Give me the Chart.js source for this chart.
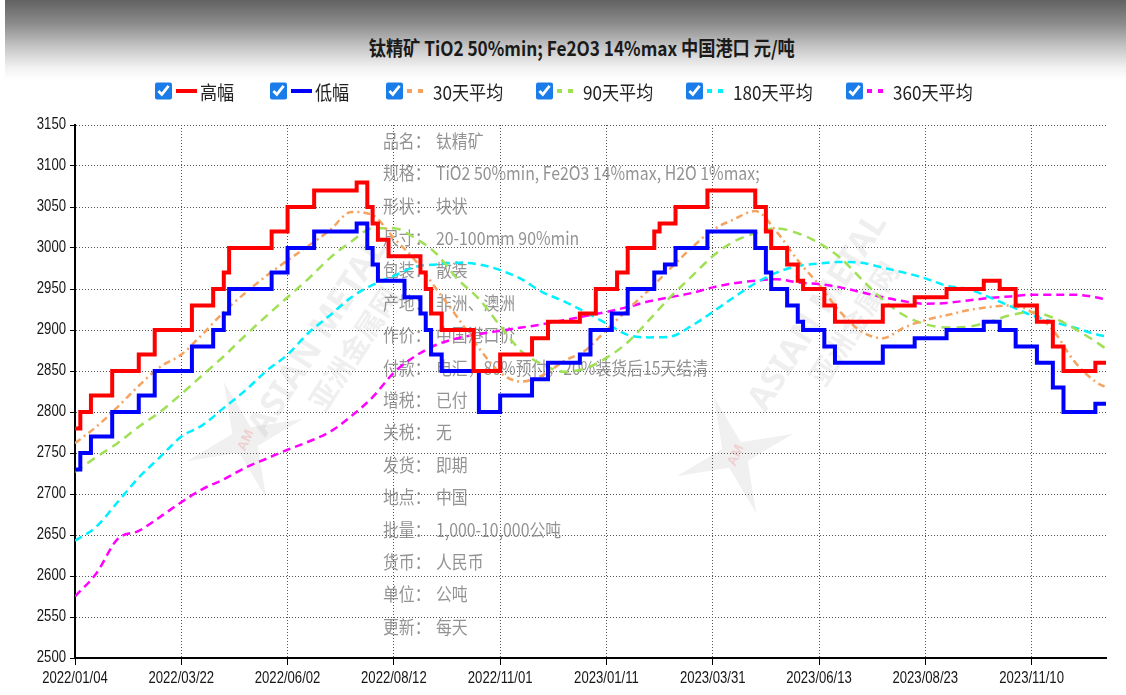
<!DOCTYPE html>
<html>
<head>
<meta charset="utf-8">
<script src="https://cdn.jsdelivr.net/npm/chart.js@4/dist/chart.umd.min.js"></script>
<style>
  body { margin: 0; width: 1126px; height: 695px; position: relative; overflow: hidden; background: #fff;
         font-family: "Noto Sans CJK SC", "Noto Sans", sans-serif; }
  #head { position: absolute; left: 5px; top: 0; width: 1121px; height: 80px;
          background: linear-gradient(#626262 0%, #8c8c8c 30%, #c8c8c8 60%, #f2f2f2 85%, #fff 100%); }
  #title { position: absolute; top: 33px; left: 0; width: 1154px; text-align: center; }
  #title span { display: inline-block; font-size: 20px; font-weight: bold; color: #1a1a1a; transform: scaleX(0.86); }
  #chart { position: absolute; left: 0; top: 0; }
  .item { position: absolute; top: 81px; height: 20px; display: flex; align-items: center; white-space: nowrap; }
  .item input { width: 17px; height: 20px; margin: 0 4px 0 0; accent-color: #1a7ce8; }
  .sw.solid { width: 21px; height: 4px; margin-right: 3px; }
  .sw.dash { width: 16px; height: 4px; margin-right: 10px; }
  .txt { font-size: 19px; color: #222; display: inline-block; transform: scaleX(0.9); transform-origin: left center; }
</style>
</head>
<body>
<div id="head"><div id="title"><span>钛精矿 TiO2 50%min; Fe2O3 14%max 中国港口 元/吨</span></div></div>
<canvas id="chart" width="1126" height="695"></canvas>
<div id="legend"></div>
<script>
// x axis: trading-day index, one tick label every 20 steps
const tickLabels = ['2022/01/04', '2022/03/22', '2022/06/02', '2022/08/12', '2022/11/01',
                    '2023/01/11', '2023/03/31', '2023/06/13', '2023/08/23', '2023/11/10'];

// 高幅 / 低幅 (one value per step)
const high = [
  2780, 2800, 2800, 2820, 2820, 2820, 2820, 2850, 2850, 2850,
  2850, 2850, 2870, 2870, 2870, 2900, 2900, 2900, 2900, 2900,
  2900, 2900, 2930, 2930, 2930, 2930, 2950, 2950, 2970, 3000,
  3000, 3000, 3000, 3000, 3000, 3000, 3000, 3020, 3020, 3020,
  3050, 3050, 3050, 3050, 3050, 3070, 3070, 3070, 3070, 3070,
  3070, 3070, 3070, 3080, 3080, 3050, 3030, 3010, 3010, 2990,
  2990, 2990, 2990, 2990, 2990, 2970, 2950, 2920, 2920, 2900,
  2900, 2900, 2900, 2900, 2900, 2850, 2850, 2850, 2850, 2850,
  2870, 2870, 2870, 2870, 2870, 2870, 2890, 2890, 2890, 2910,
  2910, 2910, 2910, 2910, 2910, 2920, 2920, 2920, 2950, 2950,
  2950, 2950, 2970, 2970, 3000, 3000, 3000, 3000, 3000, 3020,
  3030, 3030, 3030, 3050, 3050, 3050, 3050, 3050, 3050, 3070,
  3070, 3070, 3070, 3070, 3070, 3070, 3070, 3070, 3050, 3050,
  3020, 3000, 3000, 3000, 2980, 2980, 2960, 2950, 2950, 2950,
  2950, 2930, 2930, 2910, 2910, 2910, 2910, 2910, 2910, 2910,
  2910, 2910, 2930, 2930, 2930, 2930, 2930, 2930, 2940, 2940,
  2940, 2940, 2940, 2940, 2950, 2950, 2950, 2950, 2950, 2950,
  2950, 2960, 2960, 2960, 2950, 2950, 2950, 2930, 2930, 2930,
  2930, 2910, 2910, 2910, 2880, 2880, 2850, 2850, 2850, 2850,
  2850, 2850, 2860, 2860, 2860
];
const low = [
  2730, 2750, 2750, 2770, 2770, 2770, 2770, 2800, 2800, 2800,
  2800, 2800, 2820, 2820, 2820, 2850, 2850, 2850, 2850, 2850,
  2850, 2850, 2880, 2880, 2880, 2880, 2900, 2900, 2920, 2950,
  2950, 2950, 2950, 2950, 2950, 2950, 2950, 2970, 2970, 2970,
  3000, 3000, 3000, 3000, 3000, 3020, 3020, 3020, 3020, 3020,
  3020, 3020, 3020, 3030, 3030, 3000, 2980, 2960, 2960, 2960,
  2960, 2960, 2940, 2940, 2940, 2920, 2900, 2870, 2870, 2850,
  2850, 2850, 2850, 2850, 2850, 2850, 2800, 2800, 2800, 2800,
  2820, 2820, 2820, 2820, 2820, 2820, 2840, 2840, 2840, 2860,
  2860, 2860, 2860, 2860, 2860, 2870, 2870, 2900, 2900, 2900,
  2900, 2920, 2920, 2920, 2950, 2950, 2950, 2950, 2950, 2970,
  2970, 2980, 2980, 3000, 3000, 3000, 3000, 3000, 3000, 3020,
  3020, 3020, 3020, 3020, 3020, 3020, 3020, 3020, 3000, 3000,
  2970, 2950, 2950, 2950, 2930, 2930, 2910, 2900, 2900, 2900,
  2900, 2880, 2880, 2860, 2860, 2860, 2860, 2860, 2860, 2860,
  2860, 2860, 2880, 2880, 2880, 2880, 2880, 2880, 2890, 2890,
  2890, 2890, 2890, 2890, 2900, 2900, 2900, 2900, 2900, 2900,
  2900, 2910, 2910, 2910, 2900, 2900, 2900, 2880, 2880, 2880,
  2880, 2860, 2860, 2860, 2830, 2830, 2800, 2800, 2800, 2800,
  2800, 2800, 2810, 2810, 2810
];

// moving averages, read every 4 steps (last point at the final step)
const ma30 = [
  2762, 2782, 2806, 2832, 2855, 2870, 2895, 2922, 2945, 2966,
  2985, 3003, 3022, 3044, 3040, 3012, 2985, 2950, 2915, 2878,
  2848, 2837, 2845, 2862, 2875, 2900, 2925, 2949, 2975, 3000,
  3022, 3035, 3045, 3020, 2985, 2955, 2922, 2898, 2890, 2903,
  2912, 2918, 2924, 2928, 2930, 2922, 2900, 2862, 2837, 2830
];
const ma90 = [
  2727, 2745, 2762, 2782, 2800, 2822, 2845, 2868, 2893, 2917,
  2940, 2963, 2988, 3008, 3024, 3024, 3012, 2993, 2962, 2938,
  2905, 2874, 2858, 2849, 2853, 2866, 2885, 2912, 2940, 2965,
  2990, 3008, 3018, 3024, 3018, 3006, 2988, 2962, 2937, 2918,
  2907, 2903, 2904, 2910, 2918, 2922, 2915, 2902, 2886, 2877
];
const ma180 = [
  2643, 2660, 2690, 2720, 2745, 2770, 2784, 2805, 2826, 2850,
  2870, 2897, 2918, 2940, 2955, 2966, 2977, 2980, 2982, 2980,
  2973, 2962, 2946, 2935, 2922, 2908, 2894, 2891, 2892, 2905,
  2922, 2940, 2957, 2970, 2978, 2981, 2983, 2982, 2976, 2970,
  2963, 2954, 2950, 2940, 2929, 2918, 2910, 2903, 2895, 2892
];
const ma360 = [
  2575, 2603, 2645, 2655, 2672, 2690, 2706, 2718, 2732, 2743,
  2754, 2764, 2776, 2795, 2818, 2848, 2868, 2882, 2890, 2895,
  2899, 2903, 2907, 2912, 2917, 2922, 2928, 2935, 2940, 2945,
  2952, 2957, 2960, 2962, 2958, 2956, 2952, 2946, 2940, 2935,
  2932, 2933, 2936, 2939, 2941, 2943, 2943, 2943, 2940, 2937
];

const infoLines = [
  ['品名', '钛精矿'],
  ['规格', 'TiO2 50%min, Fe2O3 14%max, H2O 1%max;'],
  ['形状', '块状'],
  ['尺寸', '20-100mm 90%min'],
  ['包装', '散装'],
  ['产地', '非洲、澳洲'],
  ['作价', '中国港口价'],
  ['付款', '电汇，80%预付，20%装货后15天结清'],
  ['增税', '已付'],
  ['关税', '无'],
  ['发货', '即期'],
  ['地点', '中国'],
  ['批量', '1,000-10,000公吨'],
  ['货币', '人民币'],
  ['单位', '公吨'],
  ['更新', '每天']
];

const LAST = high.length - 1;
const TICK_EVERY = 20;
const MA_EVERY = 4;

function toPoints(values, every) {
  return values.map((v, i) => ({ x: Math.min(i * every, LAST), y: v }));
}

// product sheet text and faint watermarks behind the lines
const backdropPlugin = {
  id: 'backdrop',
  beforeDatasetsDraw(chart) {
    const ctx = chart.ctx;
    ctx.save();

    [[245, 440], [735, 455]].forEach(([cx, cy]) => {
      ctx.save();
      ctx.translate(cx, cy);
      ctx.rotate(-0.35);
      ctx.beginPath();
      const R = 62, r = 14;
      for (let k = 0; k < 8; k++) {
        const a = -Math.PI / 2 + k * Math.PI / 4;
        const rad = k % 2 === 0 ? R : r;
        ctx.lineTo(Math.cos(a) * rad, Math.sin(a) * rad);
      }
      ctx.closePath();
      ctx.fillStyle = 'rgba(0,0,0,0.06)';
      ctx.fill();
      ctx.rotate(-0.8);
      ctx.fillStyle = 'rgba(230,60,60,0.18)';
      ctx.font = 'bold 14px sans-serif';
      ctx.textAlign = 'center';
      ctx.fillText('AM', 0, 5);
      ctx.restore();
    });
    [[330, 345], [830, 320]].forEach(([cx, cy]) => {
      ctx.save();
      ctx.translate(cx, cy);
      ctx.rotate(-1.0);
      ctx.textAlign = 'center';
      ctx.textBaseline = 'middle';
      ctx.fillStyle = 'rgba(140,140,140,0.14)';
      ctx.font = 'bold 34px "Noto Sans", sans-serif';
      ctx.fillText('ASIAN METAL', 0, -14);
      ctx.font = 'bold 28px "Noto Sans CJK SC", sans-serif';
      ctx.fillText('亚洲金属网', 10, 22);
      ctx.restore();
    });

    // product info
    ctx.fillStyle = 'rgba(120,120,120,0.8)';
    ctx.font = '18px "Noto Sans CJK SC", sans-serif';
    ctx.textBaseline = 'middle';
    infoLines.forEach(([label, value], k) => {
      const y = 141 + k * 32.4;
      ctx.save();
      ctx.translate(383, y);
      ctx.scale(0.88, 1);
      ctx.fillText(label + '：', 0, 0);
      ctx.fillText(value, (436 - 383) / 0.88, 0);
      ctx.restore();
    });
    ctx.restore();
  }
};

// tick labels in a condensed face, placed from the scales
const axisLabelPlugin = {
  id: 'axisLabels',
  afterDraw(chart) {
    const { ctx, scales: { x, y } } = chart;
    ctx.save();
    ctx.fillStyle = '#151515';
    ctx.font = '16px "Liberation Sans", Arial, sans-serif';
    ctx.textBaseline = 'middle';
    x.ticks.forEach(t => {
      ctx.save();
      ctx.translate(x.getPixelForValue(t.value), x.bottom - 16);
      ctx.scale(0.82, 1);
      ctx.textAlign = 'center';
      ctx.fillText(tickLabels[t.value / TICK_EVERY] ?? '', 0, 0);
      ctx.restore();
    });
    y.ticks.forEach(t => {
      ctx.save();
      ctx.translate(y.right - 9, y.getPixelForValue(t.value));
      ctx.scale(0.82, 1);
      ctx.textAlign = 'right';
      ctx.fillText(String(t.value), 0, 0);
      ctx.restore();
    });
    ctx.restore();
  }
};

const chart = new Chart(document.getElementById('chart'), {
  type: 'line',
  data: {
    datasets: [
      { label: '高幅', data: toPoints(high, 1), borderColor: '#ff0000', borderWidth: 4, stepped: 'before' },
      { label: '低幅', data: toPoints(low, 1), borderColor: '#0000ff', borderWidth: 4, stepped: 'before' },
      { label: '30天平均', data: toPoints(ma30, MA_EVERY), borderColor: '#f4a460', borderWidth: 2.5,
        borderDash: [7, 4, 2, 4], cubicInterpolationMode: 'monotone' },
      { label: '90天平均', data: toPoints(ma90, MA_EVERY), borderColor: '#9fe055', borderWidth: 2.5,
        borderDash: [9, 6], cubicInterpolationMode: 'monotone' },
      { label: '180天平均', data: toPoints(ma180, MA_EVERY), borderColor: '#00f0ff', borderWidth: 2.5,
        borderDash: [8, 5], cubicInterpolationMode: 'monotone' },
      { label: '360天平均', data: toPoints(ma360, MA_EVERY), borderColor: '#ff00ff', borderWidth: 2.5,
        borderDash: [8, 5], cubicInterpolationMode: 'monotone' }
    ]
  },
  options: {
    responsive: false,
    animation: false,
    devicePixelRatio: 1,
    layout: { padding: { top: 125, right: 20, left: 0, bottom: 0 } },
    elements: { point: { radius: 0 } },
    plugins: { legend: { display: false }, tooltip: { enabled: false } },
    scales: {
      x: {
        type: 'linear',
        min: 0,
        max: LAST,
        afterBuildTicks: scale => { scale.ticks = tickLabels.map((_, k) => ({ value: k * TICK_EVERY })); },
        afterFit: scale => { scale.height = 37; },
        ticks: { display: false, autoSkip: false },
        grid: { color: '#555', lineWidth: 1, tickColor: '#000', tickLength: 7 },
        border: { color: '#000', width: 2, dash: [1, 2] }
      },
      y: {
        min: 2500,
        max: 3150,
        afterFit: scale => { scale.width = 75; },
        ticks: { display: false, stepSize: 50 },
        grid: { color: '#555', lineWidth: 1, tickColor: '#000', tickLength: 5 },
        border: { color: '#000', width: 2, dash: [1, 2] }
      }
    }
  },
  plugins: [backdropPlugin, axisLabelPlugin]
});

// legend with checkboxes, built from the datasets
const legendLefts = [155, 270, 386, 536, 686, 846];
const legendEl = document.getElementById('legend');
chart.data.datasets.forEach((ds, k) => {
  const item = document.createElement('label');
  item.className = 'item';
  item.style.left = legendLefts[k] + 'px';
  const c = ds.borderColor;
  const sw = ds.borderDash
    ? `<span class="sw dash" style="background:linear-gradient(to right, ${c} 0 5px, transparent 5px 11px, ${c} 11px 16px)"></span>`
    : `<span class="sw solid" style="background:${c}"></span>`;
  item.innerHTML = `<input type="checkbox" checked>${sw}<span class="txt">${ds.label}</span>`;
  legendEl.appendChild(item);
});
</script>
</body>
</html>
